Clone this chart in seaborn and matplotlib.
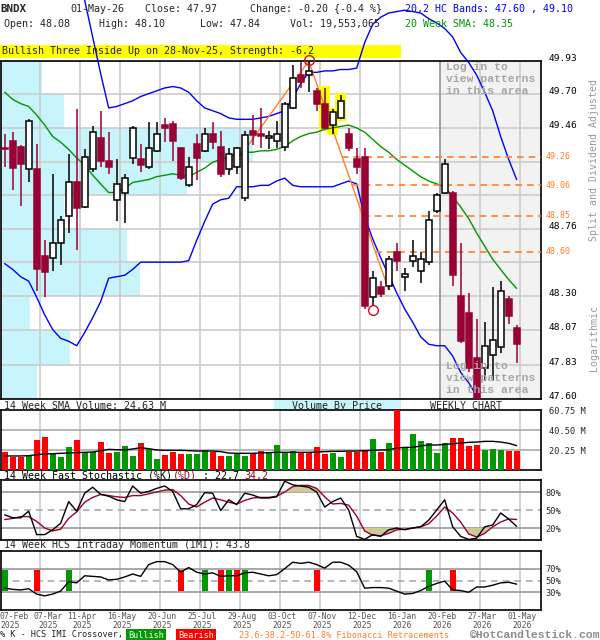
import numpy as np
import pandas as pd
import matplotlib
matplotlib.use("Agg")
import matplotlib.pyplot as plt
import matplotlib.transforms as mtransforms
from matplotlib.patches import Rectangle
from matplotlib.ticker import NullLocator
import seaborn as sns

# ---------------- data (weekly bars, 07-Feb-2025 .. 01-May-2026) ----------------
tick_idx = [0, 4, 9, 14, 19, 24, 29, 34, 39, 44, 49, 54, 59, 64]
tick_dates = ["07-Feb\n2025", "07-Mar\n2025", "11-Apr\n2025", "16-May\n2025",
              "20-Jun\n2025", "25-Jul\n2025", "29-Aug\n2025", "03-Oct\n2025",
              "07-Nov\n2025", "12-Dec\n2025", "16-Jan\n2026", "20-Feb\n2026",
              "27-Mar\n2026", "01-May\n2026"]

opens = [49.32, 49.37, 49.33, 49.17, 49.17, 48.57, 48.56, 48.66, 48.85, 49.08,
         48.91, 49.17, 49.39, 49.23, 48.96, 49.01, 49.25, 49.24, 49.19, 49.30,
         49.48, 49.49, 49.32, 49.06, 49.35, 49.30, 49.42, 49.33, 49.17, 49.19,
         48.97, 49.44, 49.42, 49.39, 49.37, 49.33, 49.60, 49.83, 49.83, 49.72,
         49.63, 49.48, 49.53, 49.42, 49.24, 49.26, 48.29, 48.36, 48.37, 48.60,
         48.43, 48.54, 48.47, 48.53, 48.88, 49.01, 49.01, 48.30, 48.18, 47.88,
         47.81, 47.90, 47.95, 48.28, 48.08]
highs = [49.42, 49.43, 49.34, 49.52, 49.35, 48.68, 49.14, 48.85, 49.28, 49.59,
         49.31, 49.47, 49.58, 49.43, 49.24, 49.14, 49.47, 49.35, 49.50, 49.50,
         49.53, 49.51, 49.33, 49.26, 49.42, 49.46, 49.50, 49.44, 49.32, 49.33,
         49.44, 49.55, 49.60, 49.44, 49.51, 49.64, 49.90, 49.92, 49.93, 49.74,
         49.74, 49.59, 49.69, 49.46, 49.32, 49.32, 48.47, 48.40, 48.57, 48.66,
         48.49, 48.68, 48.60, 48.88, 49.01, 49.24, 49.02, 48.66, 48.32, 48.14,
         48.12, 48.36, 48.40, 48.30, 48.10]
lows = [49.19, 49.03, 48.92, 49.08, 48.33, 48.29, 48.47, 48.51, 48.73, 48.61,
        48.90, 49.15, 49.19, 49.14, 48.81, 48.80, 49.21, 49.15, 49.17, 49.29,
        49.36, 49.23, 49.10, 49.05, 49.10, 49.29, 49.31, 49.12, 49.13, 49.14,
        48.95, 49.34, 49.32, 49.31, 49.32, 49.30, 49.59, 49.74, 49.71, 49.58,
        49.45, 49.42, 49.52, 49.30, 49.14, 48.21, 48.23, 48.29, 48.34, 48.47,
        48.33, 48.50, 48.39, 48.51, 48.87, 49.00, 48.37, 47.98, 47.78, 47.57,
        47.72, 47.72, 47.91, 48.11, 47.84]
closes = [49.31, 49.18, 49.21, 49.51, 48.48, 48.46, 48.66, 48.82, 49.08, 48.90,
          49.26, 49.43, 49.23, 49.19, 49.07, 49.11, 49.46, 49.20, 49.32, 49.42,
          49.46, 49.37, 49.11, 49.19, 49.25, 49.42, 49.36, 49.14, 49.28, 49.32,
          49.41, 49.41, 49.40, 49.40, 49.42, 49.63, 49.81, 49.78, 49.86, 49.63,
          49.46, 49.57, 49.65, 49.32, 49.19, 48.23, 48.42, 48.31, 48.55, 48.54,
          48.45, 48.57, 48.55, 48.82, 48.99, 49.21, 48.44, 47.99, 47.81, 47.59,
          47.96, 48.00, 48.33, 48.16, 47.97]

hc_upper = [50.62, 50.70, 50.75, 50.78, 50.80, 50.82, 50.82, 50.80, 50.72, 50.58,
            50.36, 50.10, 49.84, 49.60, 49.61, 49.63, 49.65, 49.68, 49.70, 49.72,
            49.74, 49.75, 49.74, 49.71, 49.65, 49.60, 49.58, 49.56, 49.53, 49.52,
            49.52, 49.52, 49.53, 49.54, 49.56, 49.58, 49.67, 49.77, 49.85, 49.85,
            49.86, 49.86, 49.87, 49.87, 49.88, 50.06, 50.19, 50.24, 50.27, 50.28,
            50.29, 50.28, 50.27, 50.23, 50.20, 50.16, 50.10, 49.99, 49.92, 49.83,
            49.71, 49.58, 49.40, 49.24, 49.10]
hc_lower = [48.52, 48.48, 48.43, 48.40, 48.29, 48.17, 48.07, 48.01, 47.99, 47.96,
            48.05, 48.15, 48.26, 48.42, 48.43, 48.44, 48.48, 48.53, 48.53, 48.53,
            48.53, 48.53, 48.53, 48.54, 48.68, 48.81, 48.93, 48.96, 48.97, 49.05,
            49.05, 49.05, 49.06, 49.06, 49.09, 49.11, 49.06, 49.05, 49.05, 49.05,
            49.05, 49.05, 49.07, 49.09, 49.07, 48.84, 48.69, 48.56, 48.44, 48.32,
            48.21, 48.12, 48.02, 47.97, 47.96, 47.96, 47.89, 47.78, 47.71, 47.62,
            47.56, 47.53, 47.54, 47.57, 47.60]
sma20 = [49.71, 49.66, 49.63, 49.61, 49.55, 49.48, 49.40, 49.36, 49.31, 49.25,
         49.20, 49.13, 49.07, 49.01, 49.01, 49.04, 49.08, 49.09, 49.10, 49.12,
         49.13, 49.14, 49.13, 49.12, 49.15, 49.18, 49.22, 49.24, 49.26, 49.27,
         49.29, 49.29, 49.30, 49.30, 49.31, 49.33, 49.37, 49.40, 49.42, 49.43,
         49.45, 49.46, 49.47, 49.48, 49.46, 49.43, 49.38, 49.33, 49.29, 49.24,
         49.20, 49.16, 49.12, 49.09, 49.07, 49.05, 48.98, 48.91, 48.83, 48.73,
         48.64, 48.55, 48.48, 48.41, 48.35]

# weekly volume in millions, 1 = green bar, 0 = red bar
volume = [17.9, 13.5, 13.5, 14.5, 30.4, 33.1, 16.2, 13.2, 22.9, 30.4,
          18.6, 18.6, 28.0, 16.9, 17.9, 24.0, 13.8, 27.0, 21.6, 11.1,
          15.2, 17.9, 16.2, 15.9, 15.9, 19.9, 17.9, 13.8, 13.8, 16.5,
          13.8, 17.2, 18.9, 16.9, 25.3, 18.2, 19.2, 17.9, 17.9, 23.3,
          16.5, 17.6, 13.2, 17.9, 17.9, 20.3, 31.7, 18.2, 27.3, 60.75,
          22.9, 36.5, 29.4, 27.3, 17.6, 27.3, 32.4, 32.4, 24.3, 25.3,
          20.3, 21.3, 20.3, 19.2, 19.55]
vol_up = [0, 0, 0, 1, 0, 0, 1, 1, 1, 0, 1, 1, 0, 0, 1, 1, 1, 0, 1, 1,
          0, 0, 0, 1, 1, 1, 0, 0, 1, 1, 1, 0, 0, 1, 1, 1, 1, 0, 0, 0,
          0, 1, 1, 0, 0, 0, 1, 0, 1, 0, 1, 1, 1, 1, 1, 1, 0, 0, 0, 0,
          1, 1, 1, 0, 0]
vol_sma14 = [14.2, 14.2, 14.2, 14.5, 15.5, 16.2, 16.5, 16.9, 17.2, 17.6,
             17.9, 18.2, 19.5, 20.9, 20.6, 20.3, 21.3, 22.6, 21.6, 20.3,
             19.9, 19.9, 19.9, 19.6, 19.2, 19.2, 19.2, 18.6, 17.2, 16.9,
             16.9, 16.9, 17.2, 17.6, 17.9, 17.9, 17.9, 17.9, 17.9, 18.2,
             18.6, 18.9, 18.9, 19.2, 19.2, 19.6, 19.9, 20.3, 20.3, 22.3,
             22.9, 22.9, 24.3, 25.3, 25.3, 25.9, 26.6, 27.3, 28.0, 28.3,
             29.0, 29.0, 28.3, 27.0, 24.63]

stoch_k = [42, 37, 37, 48, 9, 9, 17, 28, 64, 48,
           78, 88, 76, 73, 67, 64, 90, 78, 81, 86,
           90, 81, 52, 52, 59, 79, 78, 49, 67, 59,
           78, 75, 70, 70, 72, 98, 92, 90, 88, 80,
           55, 64, 70, 50, 6, 1, 9, 6, 17, 20,
           17, 20, 22, 33, 50, 67, 22, 6, 1, 3,
           22, 25, 45, 35, 22.7]
stoch_d = [34, 36, 39, 39, 31, 20, 15, 18, 36, 47,
           63, 71, 76, 74, 72, 71, 74, 74, 77, 80,
           83, 84, 74, 60, 55, 63, 70, 67, 63, 60,
           66, 70, 71, 71, 73, 80, 89, 91, 91, 86,
           72, 60, 61, 58, 40, 15, 8, 7, 11, 17,
           18, 20, 22, 27, 40, 55, 45, 30, 10, 5,
           11, 22, 30, 35, 34.2]

imi = [37, 35, 34, 36, 27, 24, 27, 32, 48, 46,
       58, 57, 56, 51, 52, 56, 61, 57, 77, 82,
       82, 77, 64, 72, 64, 61, 63, 57, 58, 58,
       63, 64, 61, 58, 60, 70, 81, 79, 81, 77,
       71, 81, 81, 76, 65, 37, 38, 38, 37, 32,
       27, 28, 33, 40, 45, 49, 34, 33, 30, 39,
       39, 42, 46, 47, 43.8]
imi_bull = [0, 8, 25, 28, 30, 53]
imi_bear = [4, 22, 27, 29, 39, 56]

# volume by price: price bands and relative share of volume
vbp_levels = [47.60, 47.83, 48.07, 48.30, 48.53, 48.76, 48.99, 49.22, 49.46, 49.70, 49.93]
vbp_share = [6.7, 12.8, 5.4, 25.7, 23.3, 11.7, 34.4, 46.7, 11.7, 7.6]
price_labels = ["47.60", "47.83", "48.07", "48.30", "", "48.76", "", "", "49.46", "49.70", "49.93"]

# fibonacci swing (low -> high -> low) and retracement levels
fib_pivot_idx = [28, 38, 48]
fib_pivot_px = [49.15, 49.93, 48.34]
fib_levels = [49.26, 49.06, 48.85, 48.60]
swing_idx = [38, 46]
swing_px = [49.94, 48.20]
pattern_idx = [40, 41, 42]
login_from = 54

# ---------------- styling ----------------
MAROON = "#990033"
RED = "#ff0000"
GREEN = "#009900"
BLUE = "#0000ff"
ORANGE = "#ff7f2a"
CYAN = "#c8f4fc"
GRID = "#cccccc"
KHAKI = "#cdca9a"

sns.set_theme(style="white")
plt.rcParams["font.family"] = ["DejaVu Sans Mono", "DejaVu Sans"]
plt.rcParams["axes.edgecolor"] = "black"
plt.rcParams["axes.linewidth"] = 1.2

df = pd.DataFrame({"open": opens, "high": highs, "low": lows, "close": closes})
df["idx"] = np.arange(len(df))
idx = df["idx"].values

fig = plt.figure(figsize=(6, 6.4), dpi=100)


def panel(top, bottom):
    return fig.add_axes([1 / 600, 1 - bottom / 640, 540 / 600, (bottom - top) / 640])


ax_p = panel(61, 399)
ax_v = panel(410, 470)
ax_s = panel(480, 540)
ax_i = panel(551, 610)

XMIN, XMAX = -0.46, 67.04
tick_pos = [i + 0.41 for i in tick_idx]

for ax in (ax_p, ax_v, ax_s, ax_i):
    ax.set_xlim(XMIN, XMAX)
    ax.set_xticks([])
    for t in tick_pos[1:]:
        ax.axvline(t, color=GRID, lw=1.2, zorder=1)
    for sp in ax.spines.values():
        sp.set_color("black")
        sp.set_linewidth(1.2)
    ax.tick_params(length=0)

# ---------------- price panel ----------------
ax_p.set_yscale("log")
ax_p.set_ylim(vbp_levels[0], vbp_levels[-1])
ax_p.yaxis.tick_right()
ax_p.set_yticks(vbp_levels, price_labels)
ax_p.yaxis.set_minor_locator(NullLocator())
ax_p.tick_params(axis="y", labelsize=6.8, pad=5.5, labelcolor="black")
for lbl in ax_p.get_yticklabels():
    lbl.set_verticalalignment("baseline")
for lv in vbp_levels:
    ax_p.axhline(lv, color=GRID, lw=1.2, zorder=1)

# volume by price behind everything
ax_vbp = ax_p.twiny()
ax_vbp.set_zorder(ax_p.get_zorder() - 1)
ax_p.patch.set_visible(False)
ax_vbp.barh(vbp_levels[:-1], vbp_share, height=np.diff(vbp_levels), align="edge",
            color=CYAN, lw=0)
ax_vbp.set_xlim(0, 100)
ax_vbp.axis("off")

# restricted area
login_x = tick_pos[tick_idx.index(login_from)]
ax_p.axvspan(login_x, XMAX, color="#f2f2f2", lw=0, zorder=0.5)
ax_p.axvline(login_x, color="#999999", lw=1.2, zorder=1.5)

# bands and average
sns.lineplot(x=idx, y=hc_upper, ax=ax_p, color=BLUE, linewidth=1, zorder=3, clip_on=False)
sns.lineplot(x=idx, y=hc_lower, ax=ax_p, color=BLUE, linewidth=1, zorder=3)
sns.lineplot(x=idx, y=sma20, ax=ax_p, color="#009600", linewidth=1, zorder=3)

# fibonacci
sns.lineplot(x=fib_pivot_idx, y=fib_pivot_px, ax=ax_p, color=ORANGE, linewidth=1,
             zorder=3.5, sort=False)
lh, ll = np.log(fib_pivot_px[1]), np.log(fib_pivot_px[2])
trans_p = mtransforms.blended_transform_factory(ax_p.transAxes, ax_p.transData)
for lv in fib_levels:
    x0 = fib_pivot_idx[1] + (fib_pivot_idx[2] - fib_pivot_idx[1]) * (lh - np.log(lv)) / (lh - ll)
    ax_p.hlines(lv, x0, XMAX, colors=ORANGE, linestyles=(0, (4, 3)), lw=1.2, zorder=3.5)
    ax_p.text(1.008, lv, f"{lv:.2f}", transform=trans_p, color=ORANGE, fontsize=6,
              va="center", ha="left")

# pattern highlight
pat = df.loc[pattern_idx]
ax_p.bar(pat["idx"], pat["high"] - pat["low"] + 0.024, bottom=pat["low"] - 0.012,
         width=1.3, color="#ffff00", lw=0, zorder=2.9)

# candles
up = df[df["close"] >= df["open"]]
dn = df[df["close"] < df["open"]]
ax_p.vlines(up["idx"], up["low"], up["high"], color="black", lw=1.1, zorder=4)
ax_p.vlines(dn["idx"], dn["low"], dn["high"], color=MAROON, lw=1.1, zorder=4)
for part, fc, ec in ((up, "white", "black"), (dn, MAROON, MAROON)):
    lo = np.minimum(part["open"], part["close"])
    hi = np.maximum(part["open"], part["close"])
    ax_p.bar(part["idx"], np.maximum(hi - lo, 0.006), bottom=lo, width=0.75,
             facecolor=fc, edgecolor=ec, lw=1.1, zorder=5)

ax_p.plot(swing_idx, swing_px, "o", mfc="none", mec="#c8102e", ms=7, mew=1,
          zorder=6, clip_on=False)

trans_l = mtransforms.blended_transform_factory(ax_p.transData, ax_p.transAxes)
for yy, va in ((0.997, "top"), (0.012, "bottom")):
    ax_p.text(login_x + 0.8, yy, "Log in to\nview patterns\nin this area", transform=trans_l,
              va=va, ha="left", family="Liberation Mono", weight="bold", fontsize=8.2,
              color="#a6a6a6", linespacing=1.25, zorder=7)

# ---------------- volume panel ----------------
ax_v.bar(idx, volume, width=0.72, color=[GREEN if u else RED for u in vol_up], lw=0, zorder=3)
sns.lineplot(x=idx, y=vol_sma14, ax=ax_v, color="black", linewidth=1, zorder=4)
ax_v.set_ylim(0, 60.75)
for lv in (20.25, 40.5):
    ax_v.axhline(lv, color="#aaaaaa", lw=1.2, zorder=1)
ax_v.yaxis.tick_right()
ax_v.set_yticks([20.25, 40.5, 60.75], ["20.25 M", "40.50 M", "60.75 M"])
ax_v.tick_params(axis="y", labelsize=6.2, pad=5.5)

# ---------------- stochastic panel ----------------
sd = np.array(stoch_d)
ax_s.fill_between(idx, sd, 80, where=sd >= 80, interpolate=True, color=KHAKI, lw=0, zorder=2)
ax_s.fill_between(idx, sd, 20, where=sd <= 20, interpolate=True, color=KHAKI, lw=0, zorder=2)
for lv in (20, 80):
    ax_s.axhline(lv, color="#999999", lw=1.2, zorder=1.5)
ax_s.axhline(50, color="#aaaaaa", lw=1.2, ls=(0, (4, 3)), zorder=1.5)
sns.lineplot(x=idx, y=stoch_d, ax=ax_s, color=MAROON, linewidth=1, zorder=4)
sns.lineplot(x=idx, y=stoch_k, ax=ax_s, color="black", linewidth=1, zorder=5)
ax_s.set_ylim(0, 100)
ax_s.yaxis.tick_right()
ax_s.set_yticks([20, 50, 80], ["20%", "50%", "80%"])
ax_s.tick_params(axis="y", labelsize=6.2, pad=3)

# ---------------- IMI panel ----------------
for lv in (30, 70):
    ax_i.axhline(lv, color="#999999", lw=1.2, zorder=1.5)
ax_i.axhline(50, color="#aaaaaa", lw=1.2, ls=(0, (4, 3)), zorder=1.5)
ax_i.bar(imi_bull, 36, bottom=32, width=0.75, color=GREEN, lw=0, zorder=3)
ax_i.bar(imi_bear, 36, bottom=32, width=0.75, color=RED, lw=0, zorder=3)
sns.lineplot(x=idx, y=imi, ax=ax_i, color="black", linewidth=1, zorder=4)
ax_i.set_ylim(0, 100)
ax_i.set_xlim(XMIN, XMAX)
ax_i.yaxis.tick_right()
ax_i.set_yticks([30, 50, 70], ["30%", "50%", "70%"])
ax_i.tick_params(axis="y", labelsize=6.2, pad=3)
ax_i.set_xticks([])

# date labels under the last panel (first one pinned to the left edge,
# second one nudged right so the two do not collide)
trans_d = mtransforms.blended_transform_factory(ax_i.transData, ax_i.transAxes)
for k, (pos, lab) in enumerate(zip(tick_pos, tick_dates)):
    shift, ha = 2, "center"
    if k == 0:
        pos, shift, ha = XMIN, -1, "left"
    elif k == 1:
        shift = 8
    off = mtransforms.ScaledTranslation(shift / 100, 0, fig.dpi_scale_trans)
    ax_i.text(pos, -0.04, lab, transform=trans_d + off, ha=ha, va="top",
              fontsize=5.8, color="#555555", linespacing=0.92)

for ax in (ax_p, ax_v, ax_s, ax_i):
    ax.set_xlabel("")
    ax.set_ylabel("")


# ---------------- header / labels ----------------
CH = 6.02  # width of one character of the 7.2 pt mono font, in pixels


def ftext(x, y, s, **kw):
    kw.setdefault("fontsize", 7.2)
    kw.setdefault("va", "center")
    return fig.text(x / 600, 1 - y / 640, s, **kw)


ftext(0, 9, "BNDX", weight="bold", fontsize=7.8)
ftext(70, 9, "01-May-26")
ftext(145, 9, "Close: 47.97")
ftext(250, 9, "Change: -0.20 {-0.4 %}")
ftext(405, 9, "20,2 HC Bands: 47.60 , 49.10", color=BLUE)
ftext(4, 24, "Open: 48.08")
ftext(99, 24, "High: 48.10")
ftext(200, 24, "Low: 47.84")
ftext(290, 24, "Vol: 19,553,065")
ftext(405, 24, "20 Week SMA: 48.35", color="#009600")

fig.add_artist(Rectangle((0, 1 - 57.5 / 640), 401 / 600, 12.5 / 640,
                         transform=fig.transFigure, facecolor="#ffff00", lw=0, zorder=-5))
ftext(2, 51, "Bullish Three Inside Up on 28-Nov-25, Strength: -6.2")

ftext(594, 160, "Split and Dividend Adjusted", rotation=90, ha="center", color="#999999", fontsize=7.1)
ftext(594, 338, "Logarithmic", rotation=90, ha="center", color="#999999", fontsize=7.1)

ftext(4, 406, "14 Week SMA Volume: 24.63 M")
fig.add_artist(Rectangle((274 / 600, 1 - 411 / 640), 127 / 600, 11 / 640,
                         transform=fig.transFigure, facecolor=CYAN, lw=0, zorder=-5))
ftext(337.5, 406, "Volume By Price", ha="center")
ftext(430, 406, "WEEKLY CHART")

stoch_parts = [("14 Week Fast Stochastic (%K)", "black"), ("(%D)", MAROON),
               (" : 22.7 ", "black"), ("34.2", MAROON)]
col = 0
for s, c in stoch_parts:
    ftext(4 + CH * col + (CH if s.startswith(" ") else 0), 476, s.strip(), color=c)
    col += len(s)
ftext(4, 545, "14 Week HCS Intraday Momentum (IMI): 43.8")

ftext(0, 635, "% K - HCS IMI Crossover,", fontsize=6.1)
ftext(128, 635, "Bullish", fontsize=6.1, color="white",
      bbox=dict(facecolor=GREEN, edgecolor="none", pad=1.2))
ftext(178, 635, "Bearish", fontsize=6.1, color="white",
      bbox=dict(facecolor=RED, edgecolor="none", pad=1.2))
ftext(239, 635, "23.6-38.2-50-61.8% Fibonacci Retracements", fontsize=6.1, color=ORANGE)
ftext(600, 635, "\u00a9HotCandlestick.com", fontsize=8.2, ha="right", color="#8c8c8c",
      family="Liberation Mono", weight="bold")

fig.savefig("out.png", dpi=100)
